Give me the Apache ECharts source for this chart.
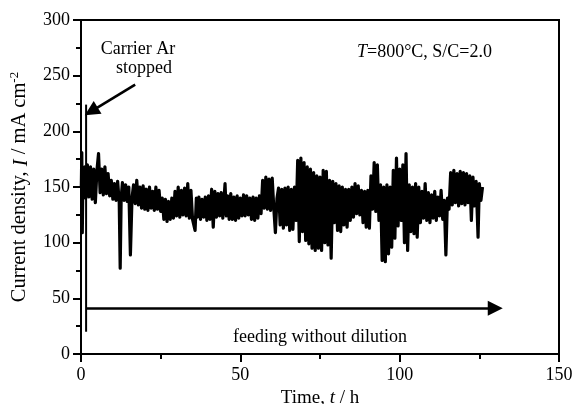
<!DOCTYPE html>
<html><head><meta charset="utf-8">
<script src="https://cdn.jsdelivr.net/npm/echarts@6/dist/echarts.min.js"></script>
<style>html,body{margin:0;padding:0;background:#fff}#c{width:573px;height:404px}</style>
</head><body><div id="c"></div>
<script>
// ---- data ----
const xTicks = [0, 50, 100, 150];
const yTicks = [0, 50, 100, 150, 200, 250, 300];
// current density trace [time h, I mA cm-2]
const trace = [
[0.1,150],[0.25,181],[0.4,109],[0.6,158],[0.9,142],[1.2,168],[1.5,140],[2.0,170],[2.5,141],[3.0,168],
[3.5,139],[4.0,166],[4.5,136],[5.0,165],[5.5,180],[6.0,145],[6.5,166],[7.0,143],[7.5,168],[8.0,144],
[8.5,162],[9.0,142],[9.5,156],[10.0,139],[10.5,153],[11.0,138],[11.5,155],[12.0,136],[12.3,77],[12.6,140],
[13.0,154],[13.5,138],[14.0,152],[14.5,137],[15.0,150],[15.5,89],[16.0,140],[16.5,152],[17.0,135],[17.5,156],
[18.0,134],[18.5,150],[19.0,131],[19.5,151],[20.0,130],[20.5,148],[21.0,129],[21.5,150],[22.0,131],[22.5,146],
[23.0,129],[23.5,150],[24.0,130],[24.5,147],[25.0,128],[25.5,140],[26.0,121],[26.5,139],[27.0,119],[27.5,137],
[28.0,121],[28.5,140],[29.0,122],[29.5,146],[30.0,124],[30.5,150],[31.0,123],[31.5,147],[32.0,125],[32.5,149],
[33.0,124],[33.5,153],[34.0,122],[34.5,147],[35.0,121],[35.8,111],[36.2,140],[36.5,123],[37.0,141],[37.5,121],
[38.0,139],[38.5,123],[39.0,141],[39.5,120],[40.0,142],[40.5,121],[41.0,148],[41.5,114],[42.0,146],[42.5,123],
[43.0,144],[43.5,124],[44.0,145],[44.5,122],[45.2,153],[45.6,124],[46.0,142],[46.5,121],[47.0,144],[47.5,121],
[48.0,141],[48.5,120],[49.0,142],[49.5,122],[50.0,140],[50.5,124],[51.0,143],[51.5,124],[52.0,142],[52.5,125],
[53.0,140],[53.5,121],[54.0,141],[54.5,120],[55.0,140],[55.5,122],[56.0,142],[56.5,126],[57.0,156],[57.5,131],
[58.0,159],[58.5,130],[59.0,157],[59.5,129],[60.0,158],[60.5,131],[61.0,109],[61.5,140],[62.0,149],[62.5,116],
[63.0,148],[63.5,113],[64.0,149],[64.5,116],[65.0,150],[65.5,111],[66.0,148],[66.5,112],[67.0,150],[67.5,120],
[68.0,174],[68.5,101],[69.0,176],[69.5,110],[70.0,172],[70.5,102],[71.0,168],[71.5,99],[72.0,166],[72.5,95],
[73.0,163],[73.5,93],[74.0,160],[74.5,95],[75.0,159],[75.5,93],[76.0,165],[76.5,100],[77.0,164],[77.5,98],
[78.0,156],[78.5,86],[79.0,155],[79.5,118],[80.0,153],[80.5,111],[81.0,151],[81.5,110],[82.0,150],[82.5,116],
[83.0,148],[83.5,114],[84.0,148],[84.5,120],[85.0,150],[85.5,123],[86.0,153],[86.5,126],[87.0,151],[87.5,125],
[88.0,147],[88.5,118],[89.0,146],[89.5,114],[90.0,147],[90.5,113],[91.0,160],[91.5,130],[92.0,172],[92.5,128],
[93.0,170],[93.5,120],[94.0,152],[94.5,84],[95.0,150],[95.5,83],[96.0,152],[96.5,90],[97.0,150],[97.5,96],
[98.0,165],[98.5,104],[99.0,176],[99.5,115],[100.0,166],[100.5,120],[101.0,170],[101.5,100],[102.0,180],[102.5,93],
[103.0,152],[103.5,110],[104.0,150],[104.5,108],[105.0,153],[105.5,105],[106.0,150],[106.5,118],[107.0,146],[107.5,122],
[108.0,153],[108.5,120],[109.0,145],[109.5,118],[110.0,143],[110.5,122],[111.0,146],[111.5,120],[112.0,141],[112.5,124],
[113.0,147],[113.5,121],[114.0,138],[114.5,89],[115.0,140],[115.5,130],[116.0,163],[116.5,134],[117.0,165],[117.5,136],
[118.0,162],[118.5,133],[119.0,164],[119.5,135],[120.0,163],[120.5,134],[121.0,162],[121.5,136],[122.0,160],[122.5,120],
[123.0,159],[123.5,133],[124.0,155],[124.6,105],[125.0,153],[125.5,138],[126.0,150]
];
// vertical line where carrier Ar was stopped
const stoppedLine = [[1.6, 20], [1.6, 224]];
// "feeding without dilution" arrow
const feedArrow = [[1.6, 41], [130.0, 41]];
// annotation arrow "Carrier Ar stopped"
const noteArrow = [[17, 242], [3.2, 218]];

const FONT = "'Liberation Serif','Times New Roman',serif";
const chart = echarts.init(document.getElementById('c'), null, {renderer: 'canvas'});
const axisCommon = {
  axisLine: {show: true, lineStyle: {color: '#000', width: 2}},
  axisTick: {show: true, inside: false, length: 8, lineStyle: {color: '#000', width: 2}},
  minorTick: {show: true, splitNumber: 2, length: 5, lineStyle: {color: '#000', width: 2}},
  splitLine: {show: false},
  axisLabel: {color: '#000', fontFamily: FONT, fontSize: 18}
};
chart.setOption({
  animation: false,
  backgroundColor: '#fff',
  grid: {left: 81, right: 14, top: 20, bottom: 50, show: true, borderColor: '#000', borderWidth: 2,
         containLabel: false, outerBoundsMode: 'none'},
  xAxis: Object.assign({}, axisCommon, {
    type: 'value', min: xTicks[0], max: xTicks[xTicks.length - 1], interval: 50,
    axisLabel: Object.assign({}, axisCommon.axisLabel, {margin: 12}),
    name: 'Time, {i|t} / h', nameLocation: 'middle', nameGap: 29,
    nameTextStyle: {color: '#000', fontFamily: FONT, fontSize: 19,
      rich: {i: {fontStyle: 'italic', fontFamily: FONT, fontSize: 19, color: '#000'}}}
  }),
  yAxis: Object.assign({}, axisCommon, {
    type: 'value', min: yTicks[0], max: yTicks[yTicks.length - 1], interval: 50,
    axisLabel: Object.assign({}, axisCommon.axisLabel, {margin: 11}),
    name: 'Current density, {i|I} / mA cm{sup|-2}', nameLocation: 'middle', nameGap: 46,
    nameTextStyle: {color: '#000', fontFamily: FONT, fontSize: 20.5, lineHeight: 24, verticalAlign: 'bottom',
      rich: {
        i: {fontStyle: 'italic', fontFamily: FONT, fontSize: 20.5, color: '#000', lineHeight: 24, verticalAlign: 'bottom'},
        sup: {fontFamily: FONT, fontSize: 13, color: '#000', lineHeight: 24, verticalAlign: 'top'}
      }}
  }),
  series: [
    {type: 'line', data: trace, showSymbol: false, symbol: 'none',
     lineStyle: {color: '#000', width: 3.2, join: 'round'}, z: 3},
    {type: 'line', data: stoppedLine, showSymbol: false, symbol: 'none',
     lineStyle: {color: '#000', width: 2}, z: 4},
    {type: 'line', data: [], symbol: 'none',
     markLine: {silent: true, symbol: ['none', 'triangle'], symbolSize: 15,
       label: {show: false},
       lineStyle: {color: '#000', width: 2.6, type: 'solid'},
       data: [
         [{coord: feedArrow[0]}, {coord: feedArrow[1]}],
         [{coord: noteArrow[0]}, {coord: noteArrow[1]}]
       ]}}
  ],
  graphic: [
    {type: 'text', x: 138, y: 49, style: {text: 'Carrier Ar', font: '18px ' + FONT, fill: '#000', align: 'center', verticalAlign: 'middle'}},
    {type: 'text', x: 144, y: 68, style: {text: 'stopped', font: '18px ' + FONT, fill: '#000', align: 'center', verticalAlign: 'middle'}},
    {type: 'text', x: 320, y: 337, style: {text: 'feeding without dilution', font: '18px ' + FONT, fill: '#000', align: 'center', verticalAlign: 'middle'}},
    {type: 'text', x: 492, y: 52, style: {text: '{i|T}=800\u00B0C, S/C=2.0', font: '18px ' + FONT, fill: '#000', align: 'right', verticalAlign: 'middle',
      rich: {i: {fontStyle: 'italic', font: 'italic 18px ' + FONT, fill: '#000'}}}}
  ]
});
</script></body></html>
